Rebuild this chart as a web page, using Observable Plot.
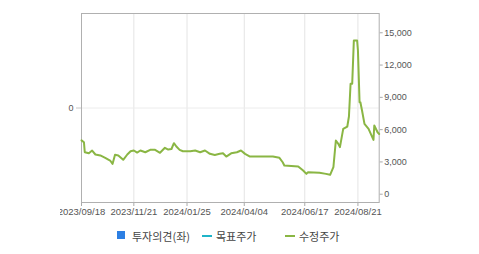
<!DOCTYPE html>
<html><head><meta charset="utf-8">
<script src="https://cdn.jsdelivr.net/npm/d3@7"></script>
<script src="https://cdn.jsdelivr.net/npm/@observablehq/plot@0.6"></script>
<style>
body{margin:0;background:#fff;}
#wrap{position:relative;width:479px;height:254px;overflow:hidden;background:#fff;}
.layer{position:absolute;left:60px;top:0;}
.lg{position:absolute;}
.lt{position:absolute;top:228px;line-height:16px;font-family:"Noto Sans CJK KR",sans-serif;font-size:11px;color:#444;white-space:nowrap;}
</style>
</head><body>
<div id="wrap">
  <div id="base" class="layer"></div>
  <div id="main" class="layer"></div>
  <div class="lg" style="left:117px;top:231px;width:8px;height:8px;background:#2d7fe3"></div>
  <div class="lt" style="left:132px">투자의견(좌)</div>
  <div class="lg" style="left:202px;top:235px;width:10px;height:2px;background:#1fb4c8"></div>
  <div class="lt" style="left:216px">목표주가</div>
  <div class="lg" style="left:285px;top:235px;width:10px;height:2px;background:#8ab644"></div>
  <div class="lt" style="left:299px">수정주가</div>
</div>
<script>
// ---- data ----
const dates = ["2023-09-18","2023-09-21","2023-09-22","2023-09-27","2023-10-01","2023-10-05","2023-10-11","2023-10-17","2023-10-23","2023-10-26","2023-10-29","2023-11-02","2023-11-08","2023-11-13","2023-11-17","2023-11-21","2023-11-25","2023-11-29","2023-12-05","2023-12-11","2023-12-17","2023-12-23","2023-12-29","2024-01-02","2024-01-06","2024-01-09","2024-01-12","2024-01-16","2024-01-20","2024-01-29","2024-02-04","2024-02-10","2024-02-16","2024-02-22","2024-02-28","2024-03-05","2024-03-09","2024-03-13","2024-03-19","2024-03-26","2024-03-31","2024-04-05","2024-04-11","2024-04-23","2024-05-09","2024-05-17","2024-05-21","2024-05-23","2024-06-09","2024-06-15","2024-06-19","2024-06-21","2024-07-05","2024-07-13","2024-07-18","2024-07-22","2024-07-25","2024-07-28","2024-07-30","2024-08-03","2024-08-08","2024-08-10","2024-08-12","2024-08-14","2024-08-16","2024-08-20","2024-08-21","2024-08-23","2024-08-24","2024-08-26","2024-08-29","2024-09-03","2024-09-09","2024-09-10","2024-09-14","2024-09-16"];
const prices = [5000,4830,3900,3810,4060,3690,3600,3380,3130,2820,3660,3600,3200,3690,3990,4060,3870,4060,3900,4120,4120,3850,4310,4150,4200,4740,4430,4120,3990,3990,4060,3900,4060,3750,3650,3750,3800,3500,3800,3900,4060,3750,3500,3500,3500,3380,2970,2670,2570,2200,1890,2050,2000,1890,1800,2510,4990,4680,4370,6070,6290,7220,10260,10260,14280,14280,13350,8550,8550,7780,6540,6070,5050,6380,5760,5600];
const xTickDates = ["2023-09-18","2023-11-21","2024-01-25","2024-04-04","2024-06-17","2024-08-21"];
const xTickLabels = ["2023/09/18","2023/11/21","2024/01/25","2024/04/04","2024/06/17","2024/08/21"];
const priceTicks = [0,3000,6000,9000,12000,15000];
const opinionTicks = [0];

const series = dates.map((d,i)=>({date:new Date(d), price:prices[i]}));
const xt = xTickDates.map(d=>new Date(d));
const labelMap = new Map(xt.map((d,i)=>[+d, xTickLabels[i]]));
const xDomain = [new Date("2023-09-18"), new Date("2024-09-16")];

const common = {
  width: 419, height: 225,
  marginLeft: 21, marginRight: 100.3, marginTop: 13, marginBottom: 23,
  style: {background:"transparent", fontSize:"9px", fontFamily:"'Liberation Sans', Arial, sans-serif", color:"#555", overflow:"hidden"}
};

const base = Plot.plot({
  ...common,
  x: {type:"utc", domain: xDomain},
  y: {domain: [-1, 1]},
  marks: [
    Plot.gridX(xt, {stroke:"#e4e4e4", strokeOpacity:1}),
    Plot.gridY(opinionTicks, {stroke:"#ececec", strokeOpacity:1}),
    Plot.axisY(opinionTicks, {anchor:"left", tickSize:5, tickPadding:3, stroke:"#c8c8c8", fill:"#555", label:null, tickFormat: d => String(d)}),
    Plot.axisX(xt, {anchor:"bottom", tickSize:4, tickPadding:2, stroke:"#aaa", fill:"#555", fontSize:9.5, label:null, tickFormat: d => labelMap.get(+d)}),
    Plot.frame({stroke:"#b0b0b0"})
  ]
});
document.getElementById("base").appendChild(base);

const main = Plot.plot({
  ...common,
  x: {type:"utc", domain: xDomain, axis:null},
  y: {domain: [-770, 16790]},
  marks: [
    Plot.line(series, {x:"date", y:"price", stroke:"#8ab644", strokeWidth:2}),
    Plot.axisY(priceTicks, {anchor:"right", tickSize:3, tickPadding:2, stroke:"#aaa", fill:"#555", label:null, tickFormat: d3.format(",")})
  ]
});
document.getElementById("main").appendChild(main);
</script>
</body></html>
